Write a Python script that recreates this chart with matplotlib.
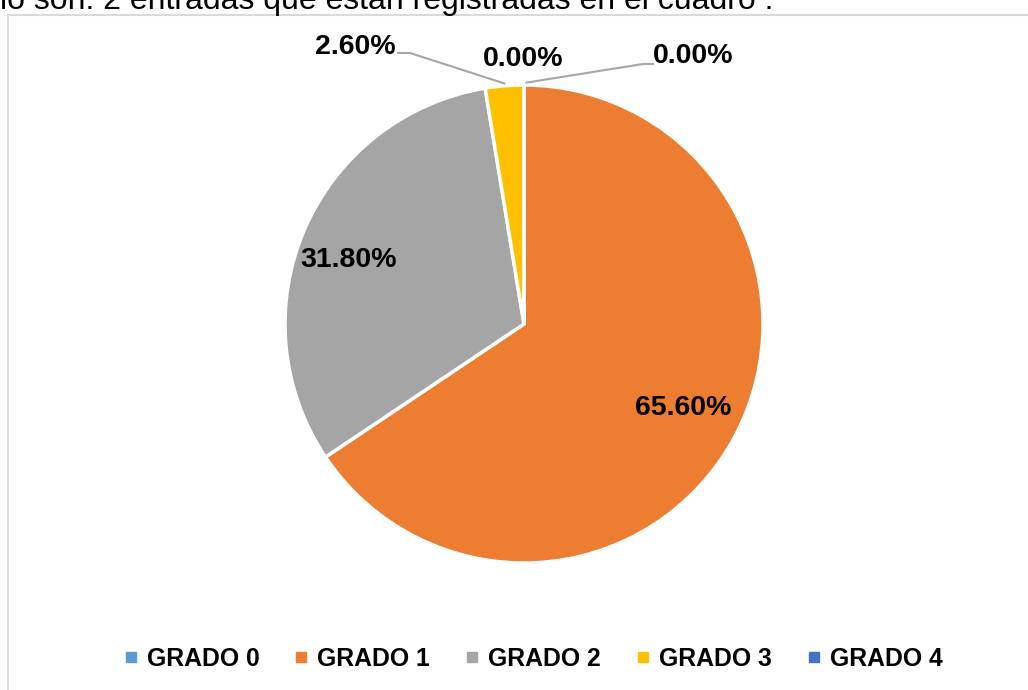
import numpy as np
import matplotlib
matplotlib.use('Agg')
import matplotlib.pyplot as plt
from matplotlib.lines import Line2D
from matplotlib.patches import Rectangle

categorias = ['GRADO 0', 'GRADO 1', 'GRADO 2', 'GRADO 3', 'GRADO 4']
porcentajes = [0.0, 65.6, 31.8, 2.6, 0.0]
colores = ['#5B9BD5', '#ED7D31', '#A5A5A5', '#FFC000', '#4472C4']
texto_superior = 'lo son: 2 entradas que están registradas en el cuadro .'

plt.rcParams['font.family'] = ['Liberation Sans', 'DejaVu Sans']

W, H = 1028, 690
fig = plt.figure(figsize=(W / 100, H / 100), dpi=100)

# marco del gráfico
fig.add_artist(Rectangle((8 / W, -0.1), 1.2, (H - 15) / H + 0.1,
                         transform=fig.transFigure, fill=False,
                         edgecolor='#d9d9d9', linewidth=1.5))

# texto del documento cortado arriba
fig.text(0 / W, 1 - 9.5 / H, texto_superior, fontsize=23, va='baseline',
         ha='left', color='black')

# pie: centro (524, 324) px, radio 239 px
cx, cy, r = 524, 324, 239
ax = fig.add_axes([(cx - r) / W, (H - cy - r) / H, 2 * r / W, 2 * r / H])
ax.pie(porcentajes, colors=colores, startangle=90, counterclock=False,
       radius=1, wedgeprops=dict(edgecolor='white', linewidth=2.5))
ax.set_xlim(-1, 1)
ax.set_ylim(-1, 1)
ax.set_aspect('equal')
ax.axis('off')

# ángulos medios de cada sector
fracs = np.array(porcentajes) / sum(porcentajes)
fin = np.cumsum(fracs)
inicio = fin - fracs
medio = 90 - 360 * (inicio + fin) / 2

# posición de las etiquetas (px)
pos_etiquetas = [(523, 59), (683, 408), (349, 260), (355, 47), (693, 56)]
# quiebre de la línea guía (px), None = sin línea
quiebre = [None, None, None, (410, 53), (643, 64)]
fin_linea = [None, None, None, (398, 53), (653, 64)]


def a_datos(p):
    return ((p[0] - cx) / r, (cy - p[1]) / r)


for i, val in enumerate(porcentajes):
    tx, ty = a_datos(pos_etiquetas[i])
    ax.text(tx, ty, f'{val:.2f}%', ha='center', va='center',
            fontsize=20.5, fontweight='bold', color='black', clip_on=False)
    if quiebre[i] is not None:
        ang = np.deg2rad(medio[i])
        x0, y0 = 1.01 * np.cos(ang), 1.01 * np.sin(ang)
        if i == 4:
            x0 = x0 + 0.01
        bx, by = a_datos(quiebre[i])
        ex, ey = a_datos(fin_linea[i])
        ax.plot([x0, bx, ex], [y0, by, ey], color='#a6a6a6', lw=1.5,
                clip_on=False)

handles = [Line2D([], [], marker='s', linestyle='none', markersize=7,
                  markerfacecolor=c, markeredgecolor=c) for c in colores]
fig.legend(handles, categorias, loc='center', ncol=5,
           bbox_to_anchor=(533 / W, 1 - 659 / H), frameon=False,
           prop=dict(size=17.8, weight='bold'), handlelength=0.6,
           handletextpad=0.35, columnspacing=1.4)

fig.savefig('out.png', dpi=100)
